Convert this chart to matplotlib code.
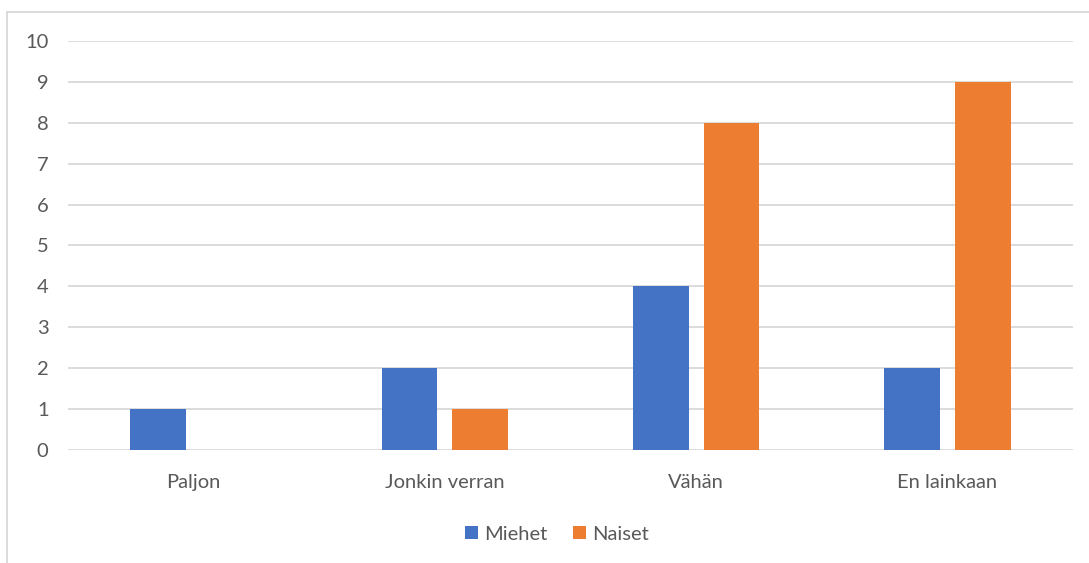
import matplotlib
matplotlib.use("Agg")
import matplotlib.pyplot as plt
from matplotlib.lines import Line2D
import numpy as np

categories = ["Paljon", "Jonkin verran", "Vähän", "En lainkaan"]
miehet = [1, 2, 4, 2]
naiset = [0, 1, 8, 9]
series_names = ["Miehet", "Naiset"]
y_ticks = list(range(0, 11))

BLUE = "#4472C4"
ORANGE = "#ED7D31"
GRID = "#D9D9D9"
TEXT = "#595959"

plt.rcParams["font.family"] = ["Lato", "DejaVu Sans"]

W, H = 1089, 563
fig = plt.figure(figsize=(W / 100, H / 100), dpi=100)

# chart frame
fig.add_artist(Line2D([7 / W, 1], [1 - 12 / H, 1 - 12 / H], color=GRID, lw=1.3,
                      transform=fig.transFigure))
fig.add_artist(Line2D([7 / W, 7 / W], [1 - 12 / H, 0], color=GRID, lw=1.3,
                      transform=fig.transFigure))

ax = fig.add_axes([68 / W, 1 - 450 / H, (1073 - 68) / W, (450 - 41) / H])

x = np.arange(len(categories))
bw = 0.222
off = 0.141
ax.bar(x - off, miehet, bw, color=BLUE, label=series_names[0], zorder=3)
ax.bar(x + off, naiset, bw, color=ORANGE, label=series_names[1], zorder=3)

ax.set_xlim(-0.5, len(categories) - 0.5)
ax.set_ylim(0, 10)
ax.set_yticks(y_ticks)
ax.set_xticks(x)
ax.set_xticklabels(categories)
ax.yaxis.grid(True, color=GRID, lw=1.3, zorder=0)
ax.set_axisbelow(True)
for s in ax.spines.values():
    s.set_visible(False)
ax.tick_params(axis="both", length=0, labelsize=14.5, labelcolor=TEXT)
ax.tick_params(axis="y", pad=14)
ax.tick_params(axis="x", pad=17)

leg = fig.legend(loc="center", bbox_to_anchor=(557 / W, 1 - 534 / H), ncol=2,
                 frameon=False, fontsize=14.5, handlelength=0.65, handleheight=0.65,
                 handletextpad=0.3, columnspacing=1.3, labelcolor=TEXT)

fig.savefig("out.png", dpi=100, facecolor="white")
